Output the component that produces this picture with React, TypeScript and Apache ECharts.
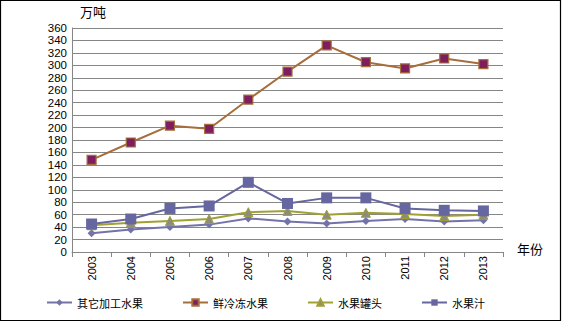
import React, { useEffect, useRef } from "react";
import * as echarts from "echarts";

const years = ["2003", "2004", "2005", "2006", "2007", "2008", "2009", "2010", "2011", "2012", "2013"];
const otherProcessed = [30, 36, 40, 44, 54, 49, 46, 50, 53, 49, 51];
const freshFrozen = [148, 176, 203, 198, 245, 290, 332, 305, 295, 311, 302];
const canned = [43, 47, 50, 53, 64, 66, 60, 63, 61, 58, 60];
const juice = [45, 53, 70, 74, 112, 78, 87, 87, 70, 67, 66];
const yTicks = { min: 0, max: 360, interval: 20 };

export default function App() {
  const ref = useRef<HTMLDivElement>(null);
  useEffect(() => {
    document.body.style.margin = "0";
    const chart = echarts.init(ref.current!, undefined, { renderer: "svg" });
    const numFont = "Liberation Sans";
    const cjk = "Noto Sans CJK SC";
    chart.setOption({
      animation: false,
      backgroundColor: "#fff",
      grid: { left: 72, right: 59, top: 28, bottom: 71 },
      graphic: [
        {
          type: "rect",
          shape: { x: 0.5, y: 0.5, width: 560, height: 320 },
          style: { fill: "none", stroke: "#000", lineWidth: 1.2 },
          silent: true,
        },
        {
          type: "text",
          left: 80,
          top: 5,
          style: { text: "万吨", font: `13px "${cjk}"`, fill: "#000" },
        },
        {
          type: "text",
          left: 517,
          top: 242,
          style: { text: "年份", font: `13px "${cjk}"`, fill: "#000" },
        },
      ],
      legend: {
        bottom: 10,
        left: 41,
        itemGap: 39,
        itemWidth: 25,
        itemHeight: 8,
        textStyle: { fontFamily: cjk, fontSize: 11, color: "#000" },
        data: ["其它加工水果", "鲜冷冻水果", "水果罐头", "水果汁"],
      },
      xAxis: {
        type: "category",
        data: years,
        boundaryGap: true,
        axisLine: { lineStyle: { color: "#868686", width: 1 } },
        axisTick: { show: true, length: 5, lineStyle: { color: "#868686" } },
        axisLabel: { rotate: 90, fontFamily: numFont, fontSize: 11, color: "#000", margin: 4 },
      },
      yAxis: {
        type: "value",
        min: yTicks.min,
        max: yTicks.max,
        interval: yTicks.interval,
        axisLine: { show: true, lineStyle: { color: "#868686" } },
        axisTick: { show: false },
        splitLine: { lineStyle: { color: "#868686", width: 1 } },
        axisLabel: { fontFamily: numFont, fontSize: 11.5, lineHeight: 11, color: "#000", margin: 5 },
      },
      series: [
        {
          name: "其它加工水果",
          type: "line",
          data: otherProcessed,
          symbol: "diamond",
          symbolSize: 8,
          lineStyle: { color: "#7373AA", width: 2 },
          itemStyle: { color: "#7373AA" },
        },
        {
          name: "鲜冷冻水果",
          type: "line",
          data: freshFrozen,
          symbol: "rect",
          symbolSize: 9,
          lineStyle: { color: "#A56E3C", width: 2 },
          itemStyle: { color: "#7E1E5E", borderColor: "#A56E3C", borderWidth: 1.2 },
        },
        {
          name: "水果罐头",
          type: "line",
          data: canned,
          symbol: "triangle",
          symbolSize: 9,
          lineStyle: { color: "#A0A034", width: 2 },
          itemStyle: { color: "#8C8C7C", borderColor: "#A0A034", borderWidth: 1 },
        },
        {
          name: "水果汁",
          type: "line",
          data: juice,
          symbol: "rect",
          symbolSize: 11,
          lineStyle: { color: "#6666A0", width: 2 },
          itemStyle: { color: "#6666A0" },
        },
      ],
    });
    return () => chart.dispose();
  }, []);
  return <div ref={ref} style={{ width: 562, height: 323 }} />;
}
